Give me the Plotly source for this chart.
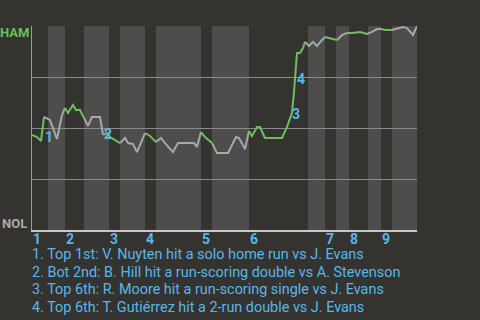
import plotly.graph_objects as go

# ---- data ----
# game progress (arbitrary units along the game) and HAM win probability
game_progress = [0, 5, 9, 12, 18, 25, 30, 33, 36, 41, 44, 48, 52, 56, 60, 68, 71,
                 75, 78, 88, 93, 96, 101, 105, 113, 118, 124, 129, 133, 141, 146, 162,
                 165, 169, 173, 180, 185, 196, 204, 207, 213, 217, 220, 225, 228, 233,
                 250, 255, 258, 260, 262, 263, 265, 268, 271, 273, 277, 281, 285, 289,
                 293, 296, 301, 305, 310, 315, 320, 328, 335, 340, 345, 349, 354, 360,
                 366, 371, 375, 378, 381, 385]
ham_win_prob = [0.466, 0.456, 0.436, 0.554, 0.539, 0.446, 0.564, 0.598, 0.574, 0.613,
                0.588, 0.588, 0.549, 0.510, 0.554, 0.554, 0.466, 0.475, 0.456, 0.426,
                0.451, 0.426, 0.422, 0.382, 0.475, 0.461, 0.431, 0.451, 0.426, 0.382,
                0.426, 0.426, 0.407, 0.480, 0.456, 0.426, 0.377, 0.377, 0.456, 0.451,
                0.397, 0.485, 0.461, 0.505, 0.505, 0.451, 0.451, 0.505, 0.549, 0.574,
                0.676, 0.740, 0.868, 0.868, 0.892, 0.922, 0.902, 0.922, 0.902, 0.926,
                0.946, 0.941, 0.936, 0.931, 0.956, 0.966, 0.966, 0.971, 0.961, 0.971,
                0.985, 0.985, 0.980, 0.980, 0.990, 0.995, 0.990, 0.971, 0.956, 1.000]
# batting team for the play ending at each point (H = HAM, N = NOL)
batting = ["-", "H", "H", "H", "N", "N", "N", "N", "H", "H", "H", "H", "H", "N", "N", "N", "N",
           "H", "H", "H", "N", "N", "N", "N", "N", "H", "H", "N", "N", "N", "N", "N",
           "N", "N", "H", "H", "N", "N", "N", "N", "N", "N", "H", "H", "H", "H",
           "H", "H", "H", "H", "H", "H", "H", "H", "H", "H", "N", "N", "N", "N",
           "N", "H", "H", "H", "N", "N", "H", "H", "H", "N", "N", "N", "H", "H",
           "N", "N", "N", "N", "N", "N"]

# half-inning boundaries (game progress units)
half_inning_edges = [0, 16, 33, 52, 77, 88, 113, 124, 169, 180, 217, 276, 293, 304,
                     317, 336, 349, 360, 385]
inning_labels = ["1", "2", "3", "4", "5", "6", "7", "8", "9"]

# key events: label, anchor position, description
event_labels = ["1", "2", "3", "4"]
event_x = [12, 71, 259, 264]
event_p = [0.456, 0.471, 0.569, 0.740]
event_text = [
    "1. Top 1st: V. Nuyten hit a solo home run vs J. Evans",
    "2. Bot 2nd: B. Hill hit a run-scoring double vs A. Stevenson",
    "3. Top 6th: R. Moore hit a run-scoring single vs J. Evans",
    "4. Top 6th: T. Gutiérrez hit a 2-run double vs J. Evans",
]
team_away, team_home = "HAM", "NOL"

# ---- styling ----
BG = "#353330"
BAND = "#4f4d4b"
GREEN = "#6cbf5c"
GRAY = "#a6a9ab"
BLUE = "#56b8ea"
FONT = "Roboto"

fig = go.Figure()

# line segments coloured by batting team
i = 1
n = len(game_progress)
while i < n:
    team = batting[i]
    j = i
    while j + 1 < n and batting[j + 1] == team:
        j += 1
    xs = game_progress[i - 1:j + 1]
    ys = ham_win_prob[i - 1:j + 1]
    fig.add_trace(go.Scatter(x=xs, y=ys, mode="lines",
                             line=dict(color=GREEN if team == "H" else GRAY, width=2),
                             hoverinfo="skip", showlegend=False))
    i = j + 1

shapes = []
for k in range(1, len(half_inning_edges) - 1, 2):
    shapes.append(dict(type="rect", xref="x", yref="y",
                       x0=half_inning_edges[k], x1=half_inning_edges[k + 1], y0=0, y1=1,
                       fillcolor=BAND, line=dict(width=0), layer="below"))

annotations = []
for k, lab in enumerate(inning_labels):
    annotations.append(dict(x=half_inning_edges[2 * k], y=0, xref="x", yref="paper",
                            text="<b>%s</b>" % lab, showarrow=False, xanchor="left",
                            yanchor="top", yshift=0, borderpad=0,
                            font=dict(family=FONT, size=14, color=BLUE)))
for lab, ex, ep in zip(event_labels, event_x, event_p):
    annotations.append(dict(x=ex, y=ep, xref="x", yref="y", text="<b>%s</b>" % lab,
                            showarrow=False, xanchor="left", yanchor="middle",
                            borderpad=0,
                            font=dict(family=FONT, size=14, color=BLUE)))
for k, t in enumerate(event_text):
    annotations.append(dict(x=0, y=0, xref="paper", yref="paper", text=t,
                            showarrow=False, xanchor="left", yanchor="middle",
                            xshift=-1, yshift=-24.5 - 17.7 * k, borderpad=0,
                            font=dict(family=FONT, size=14.4, color=BLUE)))
annotations.append(dict(x=0, y=1, xref="paper", yref="y", text="<b>%s</b>" % team_away,
                        showarrow=False, xanchor="right", yanchor="top", xshift=-2,
                        yshift=2, borderpad=0,
                        font=dict(family=FONT, size=13, color=GREEN)))
annotations.append(dict(x=0, y=0, xref="paper", yref="y", text="<b>%s</b>" % team_home,
                        showarrow=False, xanchor="right", yanchor="bottom", xshift=-4,
                        yshift=-2, borderpad=0,
                        font=dict(family=FONT, size=13, color="#a8a8a8")))

fig.update_layout(
    width=480, height=320,
    margin=dict(l=32, r=63, t=26, b=90),
    paper_bgcolor=BG, plot_bgcolor=BG,
    shapes=shapes, annotations=annotations,
    showlegend=False,
    xaxis=dict(range=[0, 385], showgrid=False, zeroline=False, showticklabels=False,
               showline=True, linecolor="#c8c8c8", linewidth=2, fixedrange=True),
    yaxis=dict(range=[0, 1], tickvals=[0.25, 0.5, 0.75, 1.0], showticklabels=False,
               gridcolor="#8a8a8a", gridwidth=1, zeroline=False,
               showline=True, linecolor="#9a9a9a", linewidth=1, fixedrange=True),
)

fig.write_html("out.html", config={"displayModeBar": False})
